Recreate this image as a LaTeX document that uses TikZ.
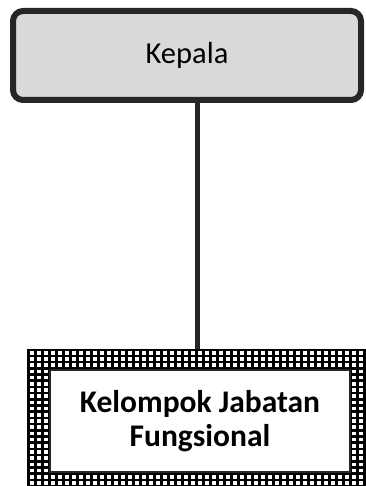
\documentclass[tikz,border=0pt]{standalone}
\usepackage{fontspec}
\setmainfont{Carlito}
\definecolor{boxline}{HTML}{262626}
\definecolor{boxfill}{HTML}{D9D9D9}
\tikzset{
  headbox/.style={draw=boxline, line width=6pt, fill=boxfill, rounded corners=10pt,
    minimum width=348pt, minimum height=89pt, inner sep=0pt,
    font=\fontsize{30.5}{34}\selectfont},
  patbox/.style={fill=black, minimum width=343pt, minimum height=143pt, inner sep=0pt},
  unitbox/.style={draw=boxline, line width=1.2pt, fill=white, minimum width=300pt,
    minimum height=102pt, inner sep=0pt, align=center,
    font=\fontsize{31.5}{34.5}\selectfont\bfseries},
  link/.style={draw=boxline, line width=5pt}
}
\begin{document}
\begin{tikzpicture}[x=1pt,y=-1pt]
\useasboundingbox (0,0) rectangle (365,486);
\node[headbox] (kepala) at (187,55.5) {Kepala};
\node[patbox] (patt) at (198.5,420.5) {};
\begin{scope}
  \clip (patt.north west) rectangle (patt.south east);
  \foreach \i in {0,...,50} {
    \foreach \j in {0,...,23} {
      \fill[white] (29.5+7*\i, 351+6.2*\j) rectangle ++(4.5,3.5);
    }
  }
\end{scope}
\node[unitbox] (kjf) at (200,421) {Kelompok Jabatan\\Fungsional};
\draw[link] ([xshift=10pt]kepala.south) -- ([xshift=10pt]kepala.south |- patt.north);
\end{tikzpicture}
\end{document}
